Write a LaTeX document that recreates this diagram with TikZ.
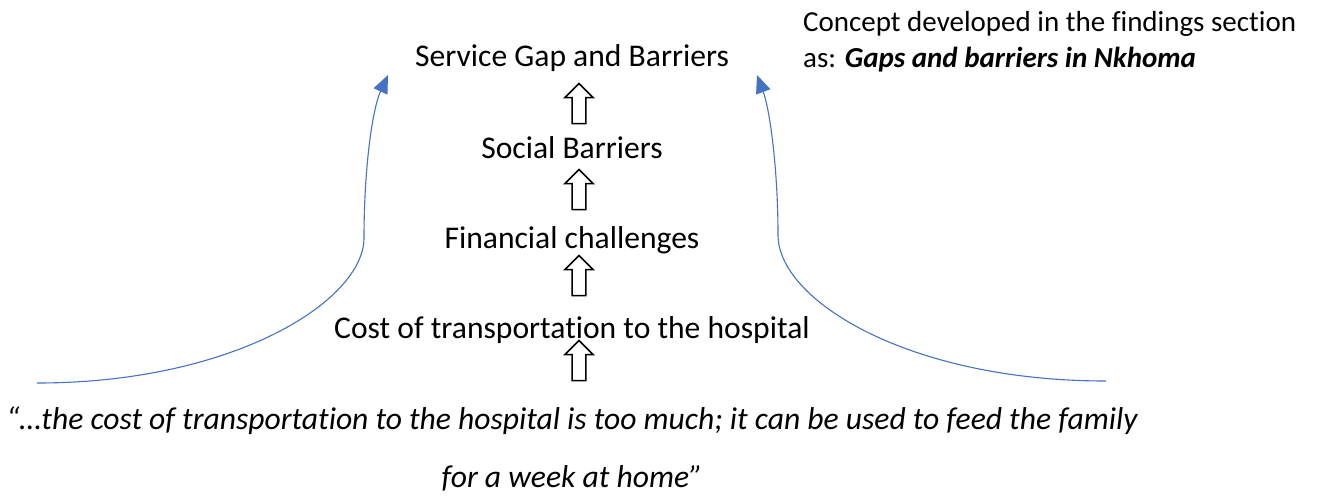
\documentclass[tikz,border=0pt]{standalone}
\usepackage{fontspec}
\setmainfont{Carlito}[Ligatures=NoCommon]
\usetikzlibrary{arrows.meta, shapes.arrows, calc}

\definecolor{linkblue}{HTML}{4472C4}

\begin{document}
\begin{tikzpicture}[x=1pt, y=-1pt,
        level/.style={anchor=base, inner sep=0pt, font=\fontsize{31.6}{36}\selectfont},
        quoteline/.style={anchor=base, inner sep=0pt, font=\fontsize{31.6}{36}\selectfont\itshape},
        concept/.style={anchor=base west, inner sep=0pt, font=\fontsize{29}{34}\selectfont},
        upblock/.style={single arrow, draw, line width=1.6pt, shape border rotate=90,
            minimum height=40pt, minimum width=28pt, inner sep=6pt, single arrow head extend=7pt},
        link/.style={linkblue, line width=1.1pt, -{Triangle[length=18pt, width=15pt]}}]

        \useasboundingbox (0,0) rectangle (1319,496);

        % chain of codes, read from the bottom up
        \node[level] (gap) at (572, 66) {Service Gap and Barriers};
        \node[level] (social) at (572, 158) {Social Barriers};
        \node[level] (money) at (572, 248) {Financial challenges};
        \node[level] (cost) at (572, 338) {Cost of transportation to the hospital};

        % the quote itself
        \node[quoteline] (quote) at (572, 429) {“…the cost of transportation to the hospital is too much; it can be used to feed the family};
        \node[quoteline] (quoteend) at (572, 487) {for a week at home”};

        % concept note, top right
        \node[concept] (note) at (803, 31) {Concept developed in the findings section};
        \node[concept] (noteend) at (803, 67) {as: \textbf{\textit{Gaps and barriers in Nkhoma}}};

        % hollow up arrows between the levels
        \node[upblock] (up1) at (579, 107) {};
        \node[upblock] (up2) at (579, 193) {};
        \node[upblock] (up3) at (579, 279) {};
        \node[upblock] (up4) at (579, 364) {};

        % side links up to the concept
        \coordinate (LS) at (37, 383);   % Left Start
        \coordinate (LE) at (388, 75);   % Left End
        \coordinate (RS) at (1106, 381); % Right Start
        \coordinate (RE) at (757, 75);   % Right End

        \draw[link] (LS) .. controls (235, 383) and (364, 300) .. (364, 238)
            .. controls (364, 170) and (372, 110) .. (LE);
        \draw[link] (RS) .. controls (908, 381) and (778, 300) .. (778, 235)
            .. controls (778, 170) and (770, 110) .. (RE);

    \end{tikzpicture}
\end{document}
